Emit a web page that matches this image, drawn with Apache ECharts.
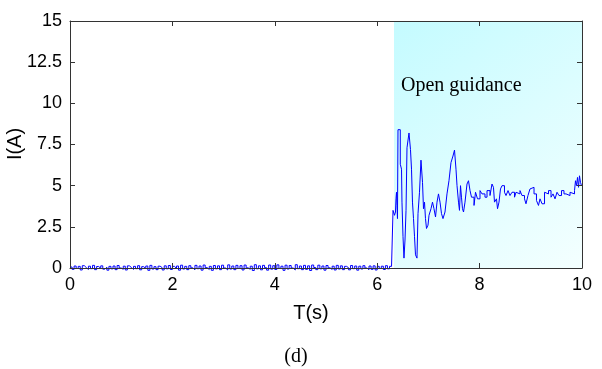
<!DOCTYPE html>
<html>
<head>
<meta charset="utf-8">
<script src="https://cdn.jsdelivr.net/npm/echarts@6/dist/echarts.min.js"></script>
<style>
  html, body { margin: 0; padding: 0; background: #fff; }
  #chart { width: 602px; height: 369px; }
</style>
</head>
<body>
<div id="chart"></div>
<script>
// 基线噪声：0 ~ 6.3 s，采样间隔 0.04 s
const baseDt = 0.04;
const baseI = [
  0.06,-0.08,0.12,-0.03,0.1,-0.12,0.14,0.02,-0.09,0.11,-0.04,0.16,-0.1,0.09,-0.02,0.13,-0.07,0.05,-0.13,0.1,
  -0.05,0.12,-0.1,0.15,0.0,-0.08,0.11,-0.12,0.13,0.03,-0.09,0.1,-0.04,0.14,-0.11,0.08,-0.03,0.12,-0.14,0.16,
  -0.06,0.08,-0.1,0.11,0.02,-0.12,0.13,-0.05,0.15,-0.09,0.1,-0.02,0.12,-0.13,0.17,-0.06,0.1,-0.1,0.14,0.01,
  -0.11,0.16,-0.04,0.12,-0.13,0.18,0.02,-0.09,0.1,-0.14,0.15,-0.05,0.13,-0.1,0.17,0.0,-0.12,0.19,-0.06,0.12,
  -0.1,0.16,-0.03,0.14,-0.12,0.18,0.01,-0.08,0.11,-0.15,0.2,-0.05,0.13,-0.11,0.16,0.02,-0.13,0.18,-0.07,0.14,
  -0.09,0.19,-0.02,0.11,-0.14,0.17,-0.06,0.15,0.0,-0.12,0.2,-0.04,0.12,-0.1,0.16,-0.08,0.13,-0.15,0.18,0.03,
  -0.1,0.17,-0.05,0.12,-0.13,0.15,0.01,-0.09,0.11,-0.12,0.16,-0.06,0.13,-0.1,0.1,0.02,-0.11,0.15,-0.04,0.12,
  -0.13,0.11,-0.06,0.14,0.0,-0.1,0.12,-0.08,0.13,-0.12,0.1,-0.03,0.11,-0.09,0.14,-0.05,0.1,0.02
];

// 打开引导后的暂态过程
const stepT = [
  6.309,6.338,6.357,6.367,6.377,6.387,6.396,6.406,6.451,6.475,6.484,6.504,6.523,6.543,6.563,6.582,
  6.621,6.650,6.670,6.689,6.709,6.729,6.748,6.777,6.797,6.826,6.855,6.885,6.904,6.924,6.943,6.963,
  6.992,7.012,7.051,7.080,7.109,7.139,7.168,7.197,7.227,7.256,7.285,7.324,7.363,7.402,7.441,7.480,
  7.510,7.539,7.559,7.588,7.607,7.627,7.646,7.666,7.686,7.715,7.754,7.783,7.813,7.842,7.891,7.920,
  7.959,8.008,8.047,8.105,8.145,8.203,8.242,8.271,8.291,8.330,8.350,8.379,8.408,8.438,8.486,8.516,
  8.555,8.594,8.633,8.682,8.711,8.750,8.789,8.828,8.877,8.906,8.945,8.984,9.023,9.063,9.111,9.150,
  9.180,9.219,9.268,9.307,9.346,9.395,9.434,9.473,9.512,9.551,9.600,9.648,9.688,9.727,9.766,9.805,
  9.854,9.873,9.893,9.912,9.932,9.951,9.971,9.990
];
const stepI = [
  3.5,3.2,3.4,4.2,4.6,3.8,3.0,8.4,6.3,6.0,4.0,1.9,0.6,1.7,3.5,7.3,
  8.2,7.2,6.0,4.0,3.0,1.9,0.8,0.6,3.3,4.6,6.55,5.2,3.6,4.0,3.0,2.4,
  2.6,3.2,3.6,4.0,3.6,3.1,4.0,4.5,4.0,3.3,3.0,3.4,4.5,5.3,6.4,6.8,
  7.16,6.0,5.0,4.0,3.5,5.0,4.3,3.6,3.4,4.0,5.1,5.3,4.7,4.3,3.8,4.6,
  4.2,4.7,4.5,4.3,4.7,4.4,5.1,4.9,4.0,4.2,3.6,4.0,4.8,5.0,4.6,4.4,
  4.7,4.4,4.6,4.3,4.6,4.5,4.7,4.4,4.2,3.9,4.4,4.8,4.9,4.5,4.1,3.8,
  4.2,3.9,4.6,4.5,4.7,4.3,4.5,4.2,4.6,4.4,4.7,4.5,4.6,4.4,4.6,4.5,
  4.7,5.3,5.0,5.5,4.9,5.6,5.2,5.0
];

const guideStart = 6.328;
const xTicks = { min: 0, max: 10, interval: 2 };
const yTicks = { min: 0, max: 15, interval: 2.5 };

const points = baseI.map((v, i) => [+(i * baseDt).toFixed(3), v])
  .concat(stepT.map((t, i) => [t, stepI[i]]));

const chart = echarts.init(document.getElementById('chart'), null, { renderer: 'canvas' });

const sans = 'Liberation Sans, Arial, sans-serif';
const serif = 'Liberation Serif, Times New Roman, serif';
const lineColor = '#333';

function axisStyle(showLabel) {
  return {
    z: 10,
    axisLine: { show: true, onZero: false, lineStyle: { color: lineColor, width: 1 } },
    axisTick: { show: true, inside: true, length: 5, lineStyle: { color: lineColor } },
    axisLabel: showLabel
      ? { show: true, color: '#000', fontSize: 18, fontFamily: sans, margin: 8 }
      : { show: false },
    splitLine: { show: false }
  };
}

chart.setOption({
  backgroundColor: '#fff',
  animation: false,
  grid: { left: 70, right: 20, top: 21, bottom: 101, containLabel: false, outerBoundsMode: 'none' },
  xAxis: [
    { type: 'value', ...xTicks, position: 'bottom', ...axisStyle(true) },
    { type: 'value', ...xTicks, position: 'top', ...axisStyle(false) }
  ],
  yAxis: [
    { type: 'value', ...yTicks, position: 'left', ...axisStyle(true) },
    { type: 'value', ...yTicks, position: 'right', ...axisStyle(false) }
  ],
  series: [
    {
      type: 'line',
      step: 'end',
      data: points,
      showSymbol: false,
      symbol: 'none',
      clip: false,
      lineStyle: { color: '#0000ff', width: 1 },
      markArea: {
        silent: true,
        itemStyle: {
          color: new echarts.graphic.LinearGradient(0, 0, 1, 1, [
            { offset: 0, color: '#c4fbff' },
            { offset: 1, color: '#f4ffff' }
          ])
        },
        data: [[{ xAxis: guideStart, yAxis: 15 }, { xAxis: 10, yAxis: 0 }]]
      },
      z: 3
    }
  ],
  graphic: [
    {
      type: 'text', z: 100, x: 401, y: 86,
      style: { text: 'Open guidance', fill: '#000', fontSize: 20, fontFamily: serif, textVerticalAlign: 'middle' }
    },
    {
      type: 'text', z: 100, x: 311, y: 313,
      style: { text: 'T(s)', fill: '#000', fontSize: 20, fontFamily: sans, textAlign: 'center', textVerticalAlign: 'middle' }
    },
    {
      type: 'text', z: 100, x: 15, y: 144, rotation: Math.PI / 2,
      style: { text: 'I(A)', fill: '#000', fontSize: 20, fontFamily: sans, textAlign: 'center', textVerticalAlign: 'middle' }
    },
    {
      type: 'text', z: 100, x: 296, y: 357,
      style: { text: '(d)', fill: '#000', fontSize: 20, fontFamily: serif, textAlign: 'center', textVerticalAlign: 'middle' }
    }
  ]
});
</script>
</body>
</html>
